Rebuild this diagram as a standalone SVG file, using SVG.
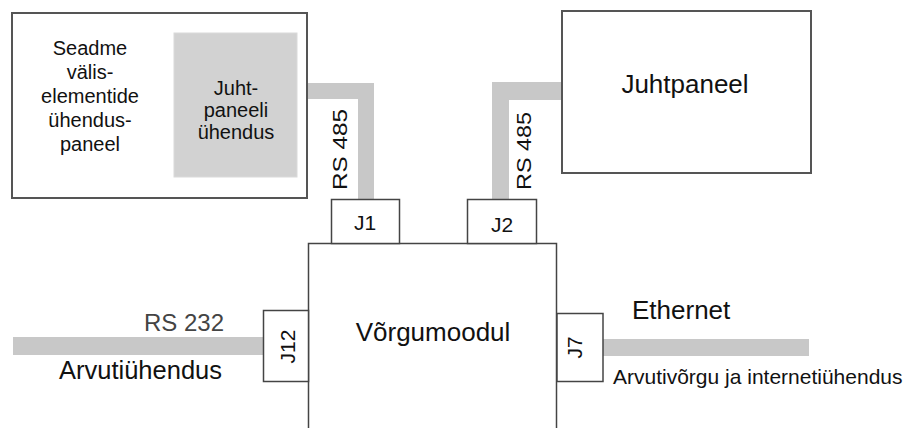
<svg xmlns="http://www.w3.org/2000/svg" width="910" height="428" viewBox="0 0 910 428">
<style>
text{font-family:"Liberation Sans",Arial,sans-serif;fill:#111}
.box{fill:#fff;stroke:#555;stroke-width:2}
.jbox{fill:#fff;stroke:#444;stroke-width:1.5}
.cable{fill:#c8c8c8;stroke:none}
.mid{text-anchor:middle}
</style>
<rect width="910" height="428" fill="#fff"/>
<g id="connectors">
<polygon class="cable" points="307,83 374,83 374,199 358,199 358,99 307,99"/>
<polygon class="cable" points="562,82 492,82 492,199 509,199 509,100 562,100"/>
<rect class="cable" x="13" y="337" width="250" height="18"/>
<rect class="cable" x="603" y="339" width="206" height="17"/>
<text x="347" y="149.5" class="mid" font-size="20" textLength="81" lengthAdjust="spacingAndGlyphs" transform="rotate(-90 347 149.5)">RS 485</text>
<text x="531" y="151" class="mid" font-size="20" textLength="78" lengthAdjust="spacingAndGlyphs" transform="rotate(-90 531 151)">RS 485</text>
<text x="224" y="331" font-size="24" text-anchor="end" style="fill:#444">RS 232</text>
<text x="59" y="379" font-size="25.5">Arvutiühendus</text>
<text x="632" y="319" font-size="26">Ethernet</text>
<text x="613" y="384" font-size="21">Arvutivõrgu ja internetiühendus</text>
</g>
<g id="seadme">
<rect class="box" x="12" y="13" width="295" height="185"/>
<text class="mid" font-size="20"><tspan x="90" y="55">Seadme</tspan><tspan x="90" y="79">välis-</tspan><tspan x="90" y="103">elementide</tspan><tspan x="90" y="127">ühendus-</tspan><tspan x="90" y="151">paneel</tspan></text>
</g>
<g id="juhtpaneeli-uhendus">
<rect x="174" y="33" width="123" height="144" fill="#d2d2d2" stroke="#dadada" stroke-width="1"/>
<text class="mid" font-size="20"><tspan x="236" y="95">Juht-</tspan><tspan x="236" y="117">paneeli</tspan><tspan x="236" y="139">ühendus</tspan></text>
</g>
<g id="juhtpaneel">
<rect class="box" x="562" y="11" width="249" height="162"/>
<text x="685" y="93" class="mid" font-size="26">Juhtpaneel</text>
</g>
<g id="vorgumoodul">
<rect class="jbox" x="308.5" y="243.5" width="248" height="200"/>
<text x="433" y="341" class="mid" font-size="26">Võrgumoodul</text>
</g>
<g id="j1">
<rect class="jbox" x="331.5" y="199.5" width="68" height="44"/>
<text x="365" y="230" class="mid" font-size="21">J1</text>
</g>
<g id="j2">
<rect class="jbox" x="467.5" y="199.5" width="69" height="44"/>
<text x="502" y="232" class="mid" font-size="21">J2</text>
</g>
<g id="j12">
<rect class="jbox" x="263.5" y="310.5" width="45" height="71"/>
<text x="295" y="346.5" class="mid" font-size="21" transform="rotate(-90 295 346.5)">J12</text>
</g>
<g id="j7">
<rect class="jbox" x="557" y="313.5" width="46" height="68"/>
<text x="582" y="347.5" class="mid" font-size="21" transform="rotate(-90 582 347.5)">J7</text>
</g>
</svg>
